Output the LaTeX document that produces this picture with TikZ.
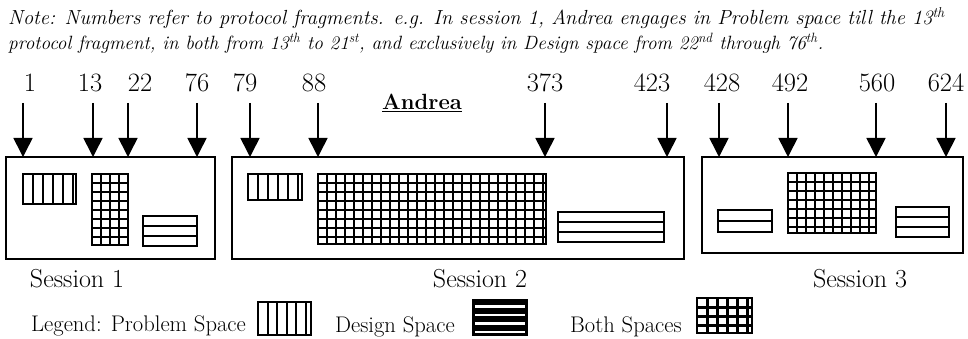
\documentclass[tikz,border=0pt]{standalone}
\usetikzlibrary{arrows.meta}
\newcommand\vsbox[5]{%
  \begin{scope}
    \clip (#1,#2) rectangle (#3,#4);
    \pgfmathtruncatemacro\nn{(#3-#1)/#5}
    \foreach \k in {1,...,\nn} \draw[pline] ({#1+\k*#5},#2) -- ({#1+\k*#5},#4);
  \end{scope}
  \draw[pborder] (#1,#2) rectangle (#3,#4);}
\newcommand\hsbox[5]{%
  \begin{scope}
    \clip (#1,#2) rectangle (#3,#4);
    \pgfmathtruncatemacro\nn{(#4-#2)/#5}
    \foreach \k in {1,...,\nn} \draw[pline] (#1,{#2+\k*#5}) -- (#3,{#2+\k*#5});
  \end{scope}
  \draw[pborder] (#1,#2) rectangle (#3,#4);}
\newcommand\gdbox[5]{%
  \begin{scope}
    \clip (#1,#2) rectangle (#3,#4);
    \pgfmathtruncatemacro\nn{(#3-#1)/#5}
    \foreach \k in {1,...,\nn} \draw[pline] ({#1+\k*#5},#2) -- ({#1+\k*#5},#4);
    \pgfmathtruncatemacro\mm{(#4-#2)/#5}
    \foreach \k in {1,...,\mm} \draw[pline] (#1,{#2+\k*#5}) -- (#3,{#2+\k*#5});
  \end{scope}
  \draw[pborder] (#1,#2) rectangle (#3,#4);}
\begin{document}
\begin{tikzpicture}[x=1pt,y=-1pt,
  sess/.style={draw, line width=1.6pt, inner sep=0pt, outer sep=0pt, anchor=north west},
  arr/.style={line width=1.6pt, -{Triangle[width=19pt,length=19pt]}},
  num/.style={anchor=base, inner sep=0pt, font=\fontsize{26.5}{30}\selectfont},
  lab/.style={anchor=base, inner sep=0pt, font=\fontsize{26}{30}\selectfont},
  leg/.style={anchor=base west, inner sep=0pt, font=\fontsize{22.6}{28}\selectfont},
  note/.style={anchor=base west, inner sep=0pt, font=\itshape},
  pline/.style={line width=2pt},
  pborder/.style={line width=2.4pt}]
\useasboundingbox (0,0) rectangle (968,339);

% note
\node[note, font=\fontsize{20.4}{24}\selectfont\itshape] (n1) at (8,25) {Note: Numbers refer to protocol fragments. e.g. In session 1, Andrea engages in Problem space till the 13\textsuperscript{th}};
\node[note, font=\fontsize{19.2}{24}\selectfont\itshape] (n2) at (8,50) {protocol fragment, in both from 13\textsuperscript{th} to 21\textsuperscript{st}, and exclusively in Design space from 22\textsuperscript{nd} through 76\textsuperscript{th}.};

% title
\node[anchor=base, inner sep=0pt, font=\fontsize{22}{26}\selectfont\bfseries] (title) at (422,110) {\underline{Andrea}};

% session boxes
\node[sess, minimum width=209pt, minimum height=102pt] (s1) at (6,157) {};
\node[sess, minimum width=452pt, minimum height=102pt] (s2) at (232,157) {};
\node[sess, minimum width=261pt, minimum height=96pt] (s3) at (702,157) {};

% numbers and arrows
\foreach \nx/\ax/\t/\s [count=\i] in {30/23/1/s1, 90/93/13/s1, 140/128/22/s1, 197/197/76/s1,
    245/250/79/s2, 314/318/88/s2, 545/545/373/s2, 652/667/423/s2,
    722/719/428/s3, 790/788/492/s3, 877/876/560/s3, 946/946/624/s3} {
  \node[num] (l\i) at (\nx,92) {\t};
  \coordinate (a\i) at (\ax,103);
  \draw[arr] (a\i) -- (a\i |- \s.north);
}

% session 1 patterns
\vsbox{23}{174}{76}{204}{10}
\gdbox{92}{174}{128}{245}{9}
\hsbox{143}{216}{197}{246}{10}
% session 2 patterns
\vsbox{248}{174}{302}{200}{10}
\gdbox{318}{174}{546}{244}{9}
\hsbox{558}{212}{664}{242}{10}
% session 3 patterns
\hsbox{718}{210}{772}{232}{11}
\gdbox{788}{173}{876}{233}{9}
\hsbox{896}{207}{949}{237}{10}

% session labels
\node[lab] (sl1) at (77,287) {Session 1};
\node[lab] (sl2) at (480,287) {Session 2};
\node[lab] (sl3) at (860,287) {Session 3};

% legend
\node[leg] (lg1) at (31,331) {Legend: Problem Space};
\vsbox{258}{302}{311}{335}{9.5}
\node[leg] (lg2) at (335,332) {Design Space};
\fill (473,300) rectangle (527,335);
\foreach \yy in {306.5,315,323.5,332} \draw[line width=2.2pt, white] (475,\yy) -- (525,\yy);
\draw[pborder] (473,300) rectangle (527,335);
\node[leg] (lg3) at (570,332) {Both Spaces};
\begin{scope}
  \clip (697,298) rectangle (752,333);
  \foreach \xx in {707,717,727,737,747} \draw[line width=3pt] (\xx,298) -- (\xx,333);
  \foreach \yy in {307,316,325} \draw[line width=3pt] (697,\yy) -- (752,\yy);
\end{scope}
\draw[line width=2.5pt] (697,298) rectangle (752,333);
\end{tikzpicture}
\end{document}
